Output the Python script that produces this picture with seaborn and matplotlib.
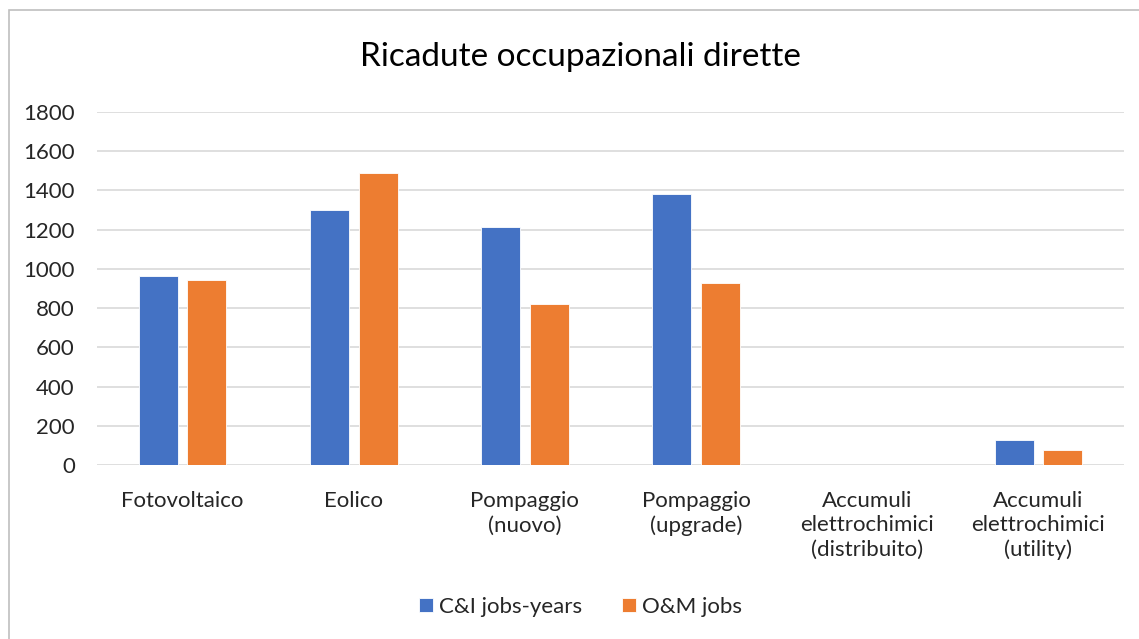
import matplotlib
matplotlib.use("Agg")
import matplotlib.pyplot as plt
from matplotlib.patches import Rectangle
import seaborn as sns
import pandas as pd

categories = [
    "Fotovoltaico",
    "Eolico",
    "Pompaggio\n(nuovo)",
    "Pompaggio\n(upgrade)",
    "Accumuli\nelettrochimici\n(distribuito)",
    "Accumuli\nelettrochimici\n(utility)",
]
series_names = ["C&I jobs-years", "O&M jobs"]
ci_jobs_years = [965, 1300, 1215, 1380, 0, 125]
om_jobs = [945, 1490, 820, 930, 0, 78]
y_ticks = [0, 200, 400, 600, 800, 1000, 1200, 1400, 1600, 1800]
colors = ["#4472C4", "#ED7D31"]

df = pd.DataFrame({
    "Categoria": categories * 2,
    "Serie": [series_names[0]] * len(categories) + [series_names[1]] * len(categories),
    "Valore": ci_jobs_years + om_jobs,
})

sns.set_theme(style="white")
plt.rcParams["font.family"] = ["Lato", "DejaVu Sans"]

fig = plt.figure(figsize=(11.39, 6.39), dpi=100)
ax = fig.add_axes([97 / 1139, 1 - 465 / 639, (1124 - 97) / 1139, (465 - 112) / 639])

# outer chart frame
fig.patches.append(Rectangle((9 / 1139, -0.1), 1.2, 1 - 10 / 639 + 0.1,
                             transform=fig.transFigure, fill=False,
                             edgecolor="#BFBFBF", linewidth=1.2))

sns.barplot(data=df, x="Categoria", y="Valore", hue="Serie", order=categories,
            hue_order=series_names, palette=colors, saturation=1,
            width=0.57, gap=0.2, edgecolor="#FFFFFF", linewidth=0.6,
            ax=ax, legend=True)

ax.set_ylim(0, 1800)
ax.set_yticks(y_ticks)
ax.set_yticklabels([str(v) for v in y_ticks], fontsize=16, color="#262626")
ax.set_xlabel("")
ax.set_ylabel("")
ax.tick_params(axis="y", length=0, pad=16)
ax.tick_params(axis="x", length=0, pad=19)
for lbl in ax.get_xticklabels():
    lbl.set_fontsize(16)
    lbl.set_color("#262626")
    lbl.set_linespacing(1.25)
    lbl.set_verticalalignment("top")

ax.yaxis.grid(True, color="#D9D9D9", linewidth=1.2)
ax.set_axisbelow(True)
for s in ax.spines.values():
    s.set_visible(False)

fig.text(0.51, 1 - 57 / 639, "Ricadute occupazionali dirette", ha="center",
         va="center", fontsize=24, color="#000000")

handles, labels = ax.get_legend_handles_labels()
ax.legend(handles, labels, loc="center", bbox_to_anchor=(0.51, 1 - 607 / 639),
          bbox_transform=fig.transFigure, ncol=2, frameon=False, fontsize=16,
          handlelength=0.6, handleheight=0.6, handletextpad=0.3, columnspacing=1.8)

fig.savefig("out.png", dpi=100, facecolor="white")
